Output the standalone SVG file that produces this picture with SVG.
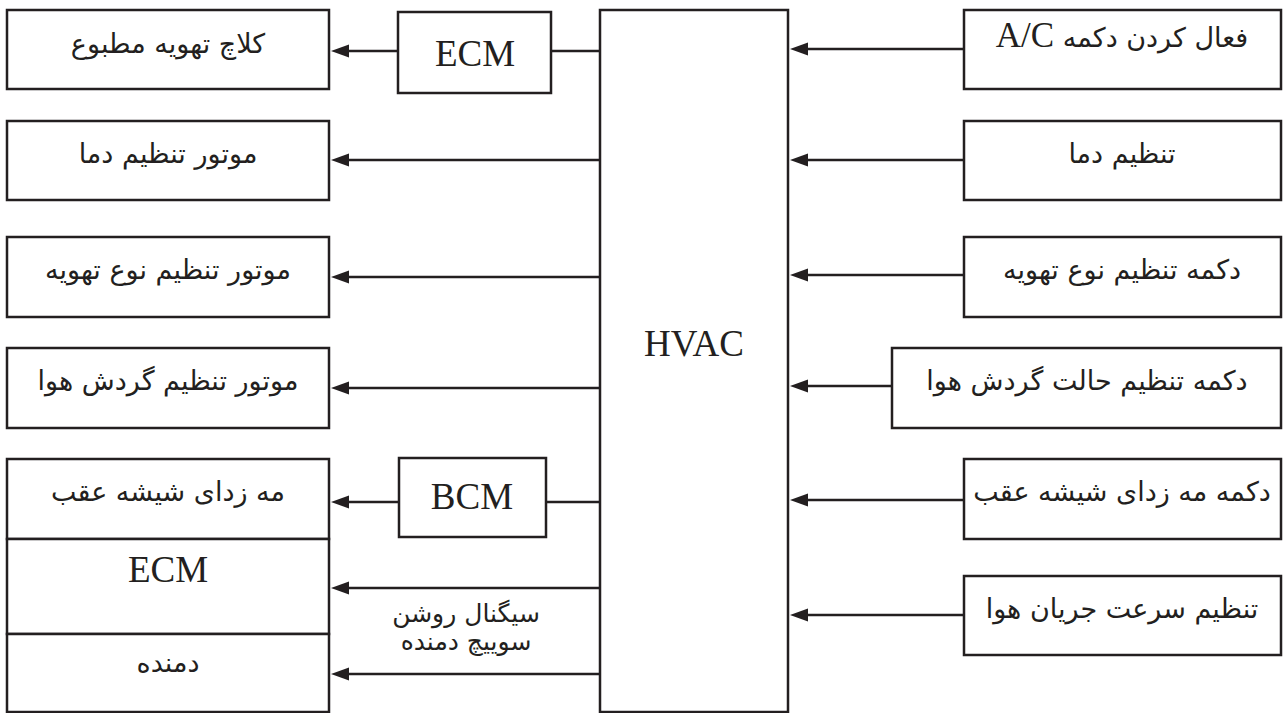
<svg xmlns="http://www.w3.org/2000/svg" width="1285" height="713" viewBox="0 0 1285 713">
  <style>
    .box { fill: #ffffff; stroke: #231f20; stroke-width: 2.5; }
    .ln { fill: none; stroke: #231f20; stroke-width: 2.5; }
    .fa { font-family: "DejaVu Sans", sans-serif; font-size: 27px; fill: #231f20; text-anchor: middle; direction: rtl; }
    .en { font-family: "Liberation Serif", serif; font-size: 37px; fill: #231f20; text-anchor: middle; }
    .lbl { font-family: "DejaVu Sans", sans-serif; font-size: 25px; fill: #231f20; text-anchor: middle; direction: rtl; }
  </style>
  <defs>
    <marker id="arr" markerUnits="userSpaceOnUse" markerWidth="20" markerHeight="14" refX="8" refY="6.5" orient="auto">
      <path d="M0,0 L18,6.5 L0,13 z" fill="#231f20"/>
    </marker>
  </defs>
  <rect width="1285" height="713" fill="#ffffff"/>

  <!-- HVAC -->
  <g id="hvac">
    <rect class="box" x="600" y="10" width="188" height="702"/>
    <text class="en" x="694" y="356">HVAC</text>
  </g>

  <!-- left outputs -->
  <g id="out-clutch">
    <rect class="box" x="7" y="10" width="322" height="79"/>
    <text class="fa" x="168" y="53">کلاچ تهویه مطبوع</text>
  </g>
  <g id="ecm-top">
    <rect class="box" x="398" y="12" width="153" height="81"/>
    <text class="en" x="475" y="66">ECM</text>
  </g>
  <g id="out-temp">
    <rect class="box" x="7" y="121" width="322" height="79"/>
    <text class="fa" x="168" y="163">موتور تنظیم دما</text>
  </g>
  <g id="out-mode">
    <rect class="box" x="7" y="237" width="322" height="80"/>
    <text class="fa" x="168" y="279">موتور تنظیم نوع تهویه</text>
  </g>
  <g id="out-recirc">
    <rect class="box" x="7" y="348" width="322" height="80"/>
    <text class="fa" x="168" y="390">موتور تنظیم گردش هوا</text>
  </g>
  <g id="out-defog">
    <rect class="box" x="7" y="459" width="322" height="80"/>
    <text class="fa" x="168" y="501">مه زدای شیشه عقب</text>
  </g>
  <g id="bcm">
    <rect class="box" x="399" y="458" width="147" height="79"/>
    <text class="en" x="472" y="509">BCM</text>
  </g>
  <g id="ecm-bottom">
    <rect class="box" x="7" y="539" width="322" height="95"/>
    <text class="en" x="168" y="582">ECM</text>
  </g>
  <g id="out-blower">
    <rect class="box" x="7" y="634" width="322" height="78"/>
    <text class="fa" x="168" y="672">دمنده</text>
  </g>

  <!-- right inputs -->
  <g id="in-ac">
    <rect class="box" x="964" y="10" width="317" height="79"/>
    <text class="fa" x="1122" y="47"><tspan>فعال کردن دکمه </tspan><tspan style="font-family:'Liberation Serif', serif; font-size:35px">A/C</tspan></text>
  </g>
  <g id="in-temp">
    <rect class="box" x="964" y="121" width="317" height="79"/>
    <text class="fa" x="1122" y="163">تنظیم دما</text>
  </g>
  <g id="in-mode">
    <rect class="box" x="964" y="237" width="317" height="80"/>
    <text class="fa" x="1122" y="279">دکمه تنظیم نوع تهویه</text>
  </g>
  <g id="in-recirc">
    <rect class="box" x="892" y="348" width="389" height="80"/>
    <text class="fa" x="1087" y="390">دکمه تنظیم حالت گردش هوا</text>
  </g>
  <g id="in-defog">
    <rect class="box" x="964" y="459" width="317" height="80"/>
    <text class="fa" x="1122" y="501">دکمه مه زدای شیشه عقب</text>
  </g>
  <g id="in-fan">
    <rect class="box" x="964" y="576" width="317" height="79"/>
    <text class="fa" x="1122" y="618">تنظیم سرعت جریان هوا</text>
  </g>

  <!-- connectors -->
  <g id="connectors">
    <line class="ln" x1="600" y1="51" x2="551" y2="51"/>
    <line class="ln" x1="398" y1="51" x2="341" y2="51" marker-end="url(#arr)"/>
    <line class="ln" x1="600" y1="160" x2="341" y2="160" marker-end="url(#arr)"/>
    <line class="ln" x1="600" y1="277" x2="341" y2="277" marker-end="url(#arr)"/>
    <line class="ln" x1="600" y1="388" x2="341" y2="388" marker-end="url(#arr)"/>
    <line class="ln" x1="600" y1="502" x2="546" y2="502"/>
    <line class="ln" x1="399" y1="502" x2="341" y2="502" marker-end="url(#arr)"/>
    <line class="ln" x1="600" y1="588" x2="341" y2="588" marker-end="url(#arr)"/>
    <line class="ln" x1="600" y1="674" x2="341" y2="674" marker-end="url(#arr)"/>

    <line class="ln" x1="964" y1="49" x2="800" y2="49" marker-end="url(#arr)"/>
    <line class="ln" x1="964" y1="160" x2="800" y2="160" marker-end="url(#arr)"/>
    <line class="ln" x1="964" y1="275" x2="800" y2="275" marker-end="url(#arr)"/>
    <line class="ln" x1="892" y1="386" x2="800" y2="386" marker-end="url(#arr)"/>
    <line class="ln" x1="964" y1="500" x2="800" y2="500" marker-end="url(#arr)"/>
    <line class="ln" x1="964" y1="615" x2="800" y2="615" marker-end="url(#arr)"/>

    <text class="lbl" x="466" y="622">سیگنال روشن</text>
    <text class="lbl" x="466" y="650">سوییچ دمنده</text>
  </g>
</svg>
